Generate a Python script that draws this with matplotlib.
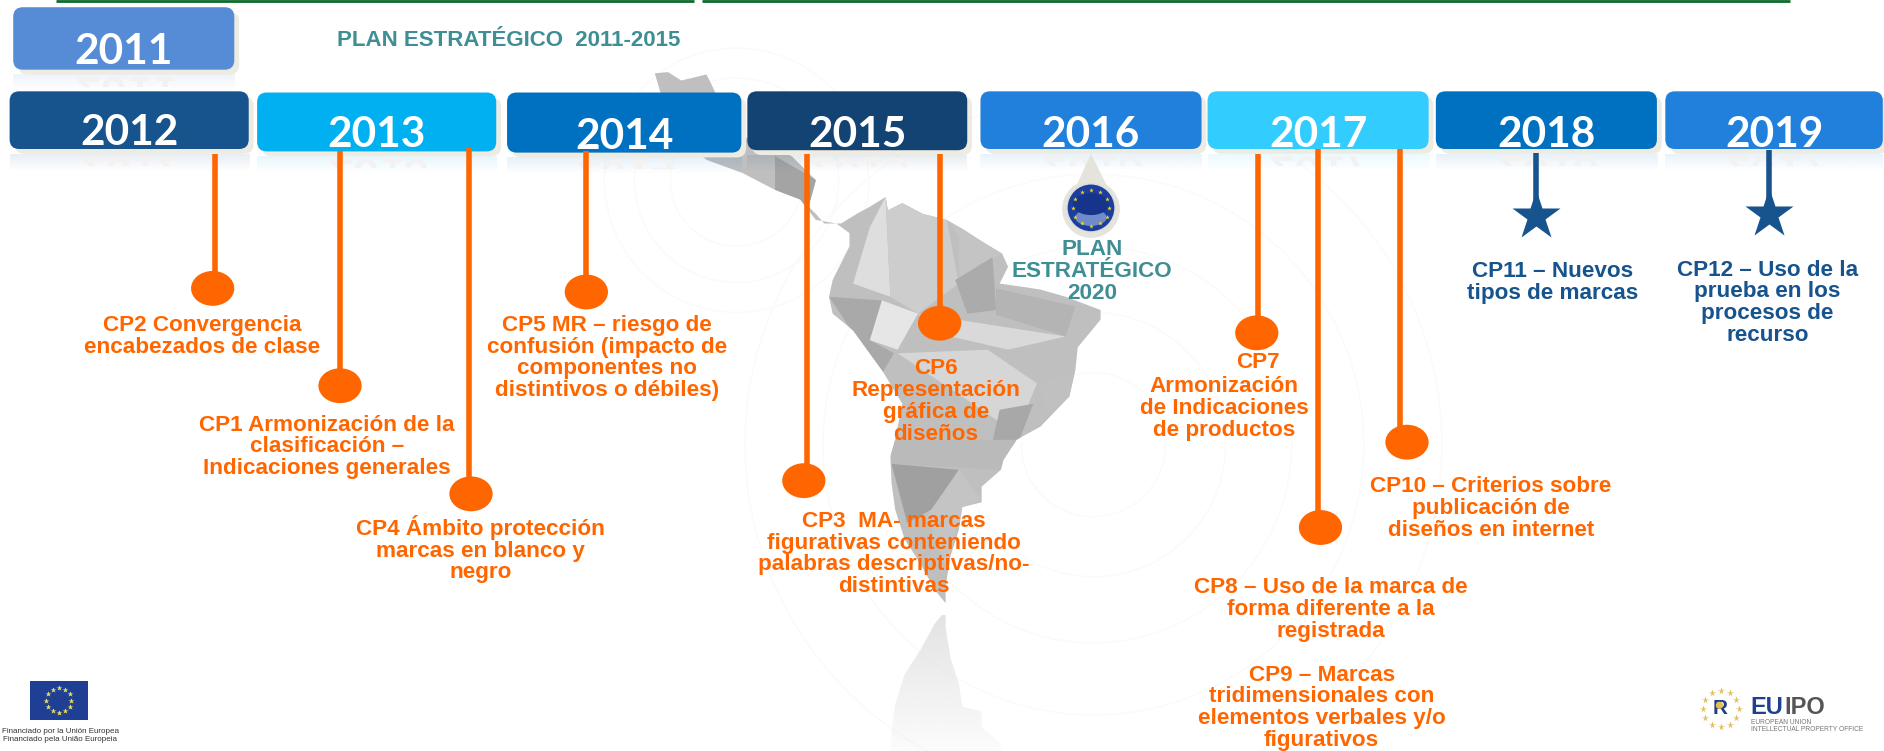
import numpy as np
from matplotlib import pyplot as plt
from matplotlib.font_manager import FontProperties
from matplotlib.patches import Circle, Ellipse, FancyBboxPatch, PathPatch, Polygon, Rectangle
from matplotlib.colors import to_rgb
from matplotlib.textpath import TextPath
from matplotlib.transforms import Affine2D

# coordinates are pixels of the 1568x625 view, y going down
years = ['2011', '2012', '2013', '2014', '2015', '2016', '2017', '2018', '2019']
year_colors = ['#568CD6', '#17538C', '#00B0F0', '#0070C0', '#134373', '#2080DC', '#33CCFF', '#0070C0', '#2080DC']
box_left = [11, 8, 214, 422, 622, 816, 1005, 1195, 1386]
box_right = [195, 207, 413, 617, 805, 1000, 1189, 1379, 1567]
box_top = [6, 76, 77, 77, 76, 76, 76, 76, 76]
box_bottom = [58, 124, 126, 127, 125, 124, 124, 124, 124]
year_y = [43, 111, 112, 114, 112, 112, 112, 112, 112]

stem_x = [179, 283, 390, 488, 672, 782, 1047, 1097, 1165]
stem_top = [128, 126, 123, 126, 128, 128, 128, 124, 124]
dot_x = [177, 283, 392, 488, 669, 782, 1046, 1099, 1171]
dot_y = [240, 321, 411, 243, 400, 269, 277, 439, 368]

star_x = [1278, 1472]
star_top = [127, 125]
star_y = [180, 178]

orange_x = [168, 272, 400, 505, 779, 744, 1047, 1019, 1108, 1100, 1241]
orange_y = [280, 372, 457, 298, 334, 461, 302, 340, 507, 589, 423]
orange_labels = [
    'CP2 Convergencia\nencabezados de clase',
    'CP1 Armonización de la\nclasificación –\nIndicaciones generales',
    'CP4 Ámbito protección\nmarcas en blanco y\nnegro',
    'CP5 MR – riesgo de\nconfusión (impacto de\ncomponentes no\ndistintivos o débiles)',
    'CP6\nRepresentación\ngráfica de\ndiseños',
    'CP3  MA- marcas\nfigurativas conteniendo\npalabras descriptivas/no-\ndistintivas',
    'CP7',
    'Armonización\nde Indicaciones\nde productos',
    'CP8 – Uso de la marca de\nforma diferente a la\nregistrada',
    'CP9 – Marcas\ntridimensionales con\nelementos verbales y/o\nfigurativos',
    'CP10 – Criterios sobre\npublicación de\ndiseños en internet',
]
navy_x = [1292, 1471]
navy_y = [235, 252]
navy_labels = ['CP11 – Nuevos\ntipos de marcas', 'CP12 – Uso de la\nprueba en los\nprocesos de\nrecurso']

map_outline = [
    (545, 61), (556, 60), (567, 67), (588, 62), (593, 72), (610, 110), (659, 130), (679, 150), (673, 172),
    (679, 178), (686, 186), (700, 186), (713, 178), (724, 172), (737, 164), (739, 175), (751, 169), (768, 178),
    (788, 183), (802, 191), (819, 202), (834, 211), (839, 222), (832, 236), (853, 239), (866, 241), (887, 247),
    (916, 258), (916, 266), (897, 289), (895, 308), (890, 330), (866, 355), (846, 366), (835, 383), (833, 391),
    (817, 405), (817, 418), (801, 422), (798, 441), (791, 463), (787, 488), (787, 502), (778, 491), (766, 469),
    (753, 449), (745, 424), (742, 402), (741, 380), (745, 366), (751, 336), (734, 308), (710, 275), (693, 261),
    (690, 247), (693, 233), (707, 205), (707, 194), (696, 186), (679, 183), (666, 166), (645, 158), (618, 144),
    (588, 133), (565, 115), (552, 85),
]
map_facets = [
    ('#DEDEDE', [(710, 236), (724, 189), (737, 164), (741, 247)]),
    ('#CDCDCD', [(737, 164), (788, 183), (798, 236), (764, 261), (741, 247)]),
    ('#A9A9A9', [(690, 247), (734, 250), (724, 283), (744, 294), (734, 311), (710, 277)]),
    ('#E6E6E6', [(734, 250), (764, 261), (747, 291), (724, 283)]),
    ('#C4C4C4', [(788, 183), (834, 211), (798, 236), (798, 197)]),
    ('#ABABAB', [(795, 233), (826, 214), (829, 258), (805, 261)]),
    ('#B4B4B4', [(829, 240), (895, 255), (887, 280), (829, 262)]),
    ('#D9D9D9', [(764, 261), (887, 280), (839, 291), (791, 280)]),
    ('#D6D6D6', [(747, 294), (822, 291), (863, 319), (846, 361), (805, 333)]),
    ('#C0C0C0', [(866, 319), (895, 308), (890, 330), (870, 347)]),
    ('#A8A8A8', [(832, 341), (860, 336), (846, 372), (825, 372)]),
    ('#BABABA', [(741, 366), (846, 366), (833, 391), (742, 386)]),
    ('#A0A0A0', [(742, 386), (798, 391), (779, 422), (755, 435)]),
    ('#C4C4C4', [(798, 391), (817, 416), (801, 422), (787, 471), (771, 430)]),
    ('#A4A4A4', [(645, 130), (680, 150), (673, 172), (645, 158)]),
]
ring_center = [(613, 150), (910, 370)]
ring_radius = [[55, 85, 110], [60, 110, 165, 225, 290]]
eu_star_angles = [0, 30, 60, 90, 120, 150, 180, 210, 240, 270, 300, 330]

ORANGE = '#FF6600'
NAVY = '#17538C'
TEAL = '#3F8E93'
W, H = 1568, 625


def fade(ax, x0, x1, y0, y1, color, alpha=1.0, clip=None, zorder=1):
    # colour going transparent downwards
    rgba = np.ones((64, 1, 4))
    rgba[:, :, :3] = to_rgb(color)
    rgba[:, 0, 3] = np.linspace(alpha, 0, 64)
    im = ax.imshow(rgba, extent=(x0, x1, y1, y0), aspect='auto', zorder=zorder, interpolation='bilinear')
    if clip is not None:
        im.set_clip_path(clip)
    return im


fig = plt.figure(figsize=(18.84, 7.51), dpi=100)
ax = fig.add_axes([0, 0, 1, 1])
ax.set_axis_off()

# faint rings
for (cx, cy), radii in zip(ring_center, ring_radius):
    for r in radii:
        ax.add_patch(Circle((cx, cy), r, fill=False, ec='#FAFAFA', lw=1, zorder=0.5))

# map with its reflection
land = Polygon(map_outline, closed=True, fc='#BFBFBF', ec='none', zorder=1)
ax.add_patch(land)
for shade, pts in map_facets:
    f = Polygon(pts, closed=True, fc=shade, ec='none', zorder=1.1)
    ax.add_patch(f)
    f.set_clip_path(land)
mirror = Polygon([(x, 2 * 505 - y) for x, y in map_outline], closed=True, fc='none', ec='none', zorder=1)
ax.add_patch(mirror)
fade(ax, 730, 860, 512, 640, '#E0E0E0', alpha=0.9, clip=mirror)

# green rule on top
ax.plot([47, 578], [0.5, 0.5], color='#0B6B2B', lw=2, zorder=2, solid_capstyle='butt')
ax.plot([584, 1490], [0.5, 0.5], color='#0B6B2B', lw=2, zorder=2, solid_capstyle='butt')

# year boxes
year_font = FontProperties(family='Lato', weight='bold')
for i, year in enumerate(years):
    x0, x1, y0, y1 = box_left[i], box_right[i], box_top[i], box_bottom[i]
    fade(ax, x0, x1, y1 + 4, y1 + 18, year_colors[i], alpha=0.1, zorder=2)
    # upside down ghost of the year, y axis is inverted so the path is mirrored already
    tp = TextPath((0, 0), year, size=36, prop=year_font)
    bb = tp.get_extents()
    ghost = PathPatch(tp, fc='#F2F2F2', ec='none', zorder=2.5,
                      transform=Affine2D().translate((x0 + x1) / 2 - bb.width / 2, y1 + 6) + ax.transData)
    ax.add_patch(ghost)
    ghost.set_clip_path(Rectangle((x0, y1), x1 - x0, 14, transform=ax.transData))
    ax.add_patch(FancyBboxPatch((x0 + 9, y0 + 9), x1 - x0 - 10, y1 - y0 - 10, boxstyle='round,pad=5,rounding_size=8',
                                fc='#EDEBE2', ec='none', zorder=3))
    ax.add_patch(FancyBboxPatch((x0 + 5, y0 + 5), x1 - x0 - 10, y1 - y0 - 10, boxstyle='round,pad=5,rounding_size=8',
                                fc=year_colors[i], ec='none', zorder=4))
    ax.text((x0 + x1) / 2, year_y[i], year, color='white', fontsize=30.5, fontweight='bold', family='Lato',
            ha='center', va='center', zorder=5)

ax.text(423, 34, 'PLAN ESTRATÉGICO  2011-2015', color=TEAL, fontsize=16, fontweight='bold',
        family='Liberation Sans', ha='center', va='center', zorder=5)

# orange stems and dots
for x, top, dx, dy in zip(stem_x, stem_top, dot_x, dot_y):
    ax.plot([x, x], [top, dy], color=ORANGE, lw=4, solid_capstyle='butt', zorder=6)
    ax.add_patch(Ellipse((dx, dy), 36, 29, fc=ORANGE, ec='none', zorder=6))

# navy stems and stars
for x, top, y in zip(star_x, star_top, star_y):
    ax.plot([x, x], [top, y], color=NAVY, lw=4, solid_capstyle='butt', zorder=6)
    ax.plot([x], [y], marker='*', ms=37, color=NAVY, mec='none', zorder=6)

for x, y, label in zip(orange_x, orange_y, orange_labels):
    ax.text(x, y, label, color=ORANGE, fontsize=16.2, fontweight='bold', family='Liberation Sans',
            ha='center', va='center', linespacing=1.05, zorder=7)
for x, y, label in zip(navy_x, navy_y, navy_labels):
    ax.text(x, y, label, color=NAVY, fontsize=16.2, fontweight='bold', family='Liberation Sans',
            ha='center', va='center', linespacing=1.05, zorder=7)

# drop with the EU badge
ax.add_patch(Polygon([(908, 128), (888, 172), (930, 172)], closed=True, fc='#E4E4DC', ec='none', zorder=3))
ax.add_patch(Circle((908, 174), 24, fc='#E4E4DC', ec='none', zorder=3))
ax.add_patch(Circle((908, 173), 20, fc='#1C3F9E', ec='#DDDDDD', lw=1, zorder=4))
ax.add_patch(Ellipse((908, 181), 26, 14, fc='#6F8BC9', ec='none', zorder=4))
ax.add_patch(Ellipse((908, 170), 30, 18, fc='#17348C', ec='none', zorder=4))
for a in eu_star_angles:
    ax.plot([908 + 15 * np.cos(np.radians(a))], [173 + 15 * np.sin(np.radians(a))], marker='*', ms=3.5,
            color='#F2D21F', mec='none', zorder=5)
ax.text(909, 226, 'PLAN\nESTRATÉGICO\n2020', color=TEAL, fontsize=16.2, fontweight='bold', family='Liberation Sans',
        ha='center', va='center', linespacing=1.05, zorder=7)

# EU flag logo
ax.add_patch(Rectangle((25, 567), 48, 32, fc='#1F3F94', ec='none', zorder=3))
for a in eu_star_angles:
    ax.plot([49 + 10.5 * np.cos(np.radians(a))], [583 + 10.5 * np.sin(np.radians(a))], marker='*', ms=4,
            color='#E8E060', mec='none', zorder=4)
ax.text(50, 612, 'Financiado por la Unión Europea\nFinanciado pela União Europeia', color='#333333', fontsize=5.8,
        family='Liberation Sans', ha='center', va='center', linespacing=1.25, zorder=4)

# EUIPO logo
for a in eu_star_angles:
    ax.plot([1432 + 15 * np.cos(np.radians(a))], [590 + 15 * np.sin(np.radians(a))], marker='*', ms=5.5,
            color='#E3BC55', mec='none', zorder=4)
ax.text(1432, 590, 'R', color='#1F3F7F', fontsize=15, fontweight='bold', family='Liberation Sans',
        ha='center', va='center', zorder=4)
ax.add_patch(Circle((1431, 587), 3, fc='#E3BC55', ec='none', zorder=5))
ax.text(1457, 589, 'EU', color='#1F3F8F', fontsize=17, fontweight='bold', family='Liberation Sans',
        ha='left', va='center', zorder=4)
ax.text(1485, 589, 'IPO', color='#555555', fontsize=17, fontweight='bold', family='Liberation Sans',
        ha='left', va='center', zorder=4)
ax.text(1457, 604, 'EUROPEAN UNION\nINTELLECTUAL PROPERTY OFFICE', color='#777777', fontsize=4.8,
        family='Liberation Sans', ha='left', va='center', linespacing=1.05, zorder=4)

ax.set_xlim(0, W)
ax.set_ylim(H, 0)

fig.savefig('out.png', dpi=100, facecolor='white')
plt.close(fig)
